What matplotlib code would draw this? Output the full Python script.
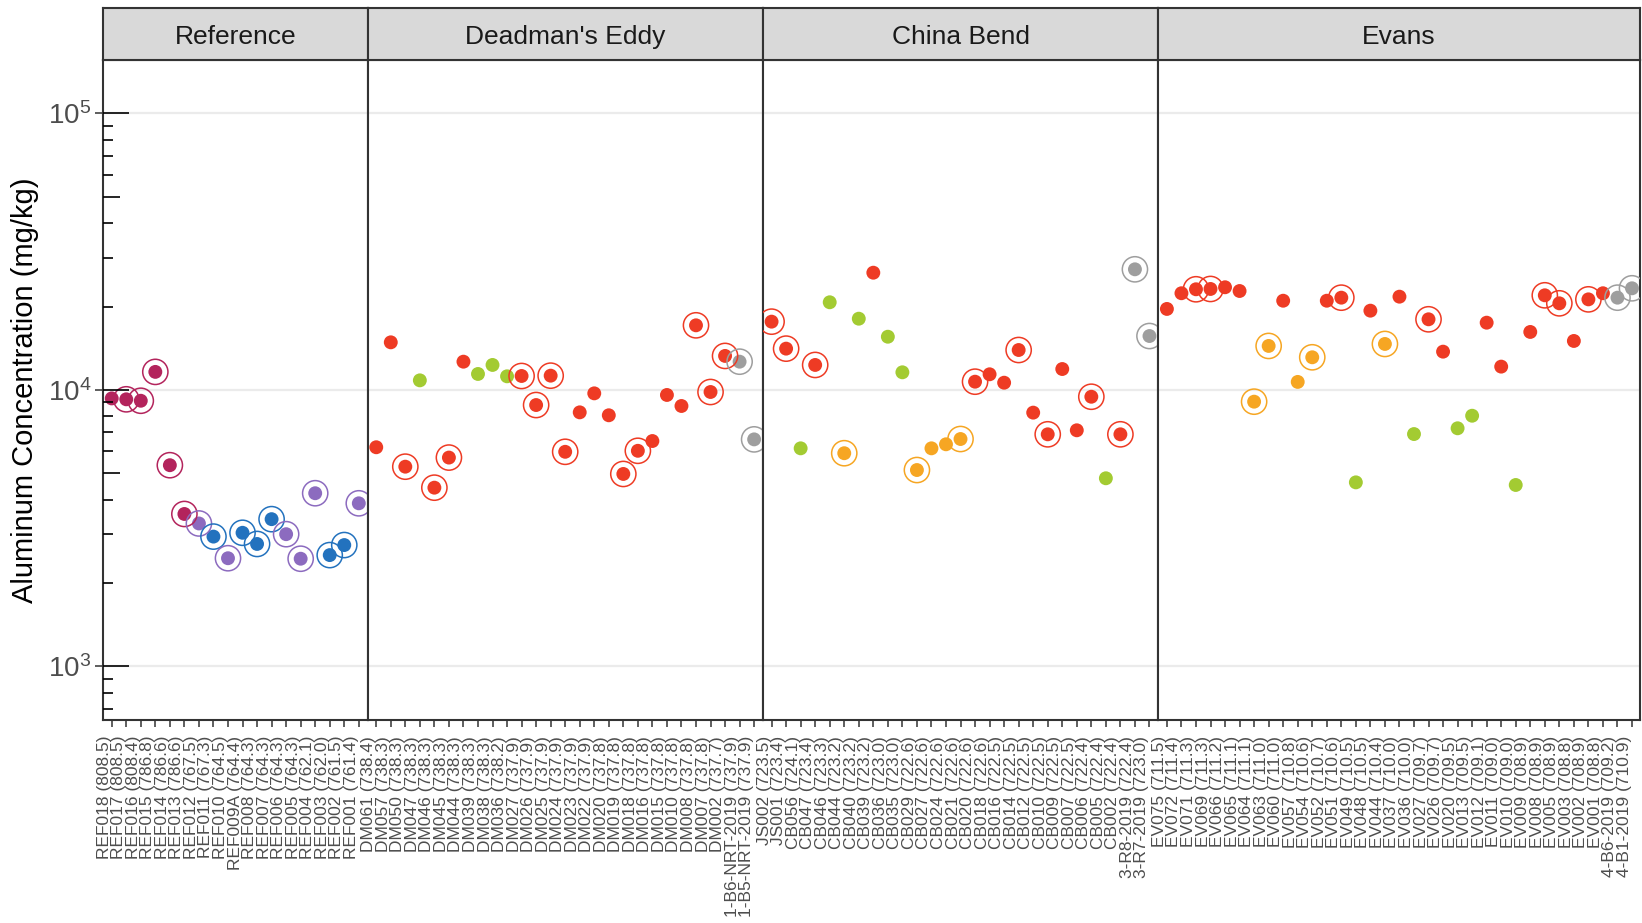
import matplotlib
matplotlib.use("Agg")
import matplotlib.pyplot as plt
import matplotlib.transforms as mtransforms
from matplotlib.ticker import FixedLocator, LogFormatterSciNotation, NullLocator

plt.rcParams['font.family'] = ['Liberation Sans', 'DejaVu Sans']

# ---------------- data ----------------
ref_labels = ["REF018 (808.5)", "REF017 (808.5)", "REF016 (808.4)", "REF015 (786.8)",
              "REF014 (786.6)", "REF013 (786.6)", "REF012 (767.5)", "REF011 (767.3)",
              "REF010 (764.5)", "REF009A (764.4)", "REF008 (764.3)", "REF007 (764.3)",
              "REF006 (764.3)", "REF005 (764.3)", "REF004 (762.1)", "REF003 (762.0)",
              "REF002 (761.5)", "REF001 (761.4)"]
ref_values = [9300, 9230, 9120, 11600, 5330, 3550, 3280, 2940, 2455, 3035, 2765, 3400,
              3000, 2445, 4220, 2520, 2740, 3880]
ref_class = ["M", "M", "M", "M", "M", "M", "P", "B", "P", "B", "B", "B", "P", "P", "P",
             "B", "B", "P"]
ref_ring = [0, 1, 1, 1, 1, 1, 1, 1, 1, 1, 1, 1, 1, 1, 1, 1, 1, 1]

dm_labels = ["DM061 (738.4)", "DM057 (738.3)", "DM050 (738.3)", "DM047 (738.3)",
             "DM046 (738.3)", "DM045 (738.3)", "DM044 (738.3)", "DM039 (738.3)",
             "DM038 (738.3)", "DM036 (738.2)", "DM027 (737.9)", "DM026 (737.9)",
             "DM025 (737.9)", "DM024 (737.9)", "DM023 (737.9)", "DM022 (737.9)",
             "DM020 (737.8)", "DM019 (737.8)", "DM018 (737.8)", "DM016 (737.8)",
             "DM015 (737.8)", "DM010 (737.8)", "DM008 (737.8)", "DM007 (737.8)",
             "DM002 (737.7)", "1-B6-NRT-2019 (737.9)", "1-B5-NRT-2019 (737.9)"]
dm_values = [6190, 14840, 5265, 10810, 4420, 5680, 12630, 11400, 12290, 11180, 11210,
             8800, 11240, 5960, 8280, 9700, 8080, 4955, 6010, 6520, 9570, 8730, 17100,
             9810, 13250, 12630, 6610]
dm_class = ["R", "R", "R", "G", "R", "R", "R", "G", "G", "G", "R", "R", "R", "R", "R",
            "R", "R", "R", "R", "R", "R", "R", "R", "R", "R", "X", "X"]
dm_ring = [0, 0, 1, 0, 1, 1, 0, 0, 0, 0, 1, 1, 1, 1, 0, 0, 0, 1, 1, 0, 0, 0, 1, 1, 1, 1, 1]

cb_labels = ["JS002 (723.5)", "JS001 (723.4)", "CB056 (724.1)", "CB047 (723.4)",
             "CB046 (723.3)", "CB044 (723.2)", "CB040 (723.2)", "CB039 (723.2)",
             "CB036 (723.0)", "CB035 (723.0)", "CB029 (722.6)", "CB027 (722.6)",
             "CB024 (722.6)", "CB021 (722.6)", "CB020 (722.6)", "CB018 (722.6)",
             "CB016 (722.5)", "CB014 (722.5)", "CB012 (722.5)", "CB010 (722.5)",
             "CB009 (722.5)", "CB007 (722.5)", "CB006 (722.4)", "CB005 (722.4)",
             "CB002 (722.4)", "3-R8-2019 (722.4)", "3-R7-2019 (723.0)"]
cb_values = [17630, 14080, 6135, 12290, 20720, 5890, 18070, 26510, 15550, 11560, 5120,
             6135, 6345, 6630, 10690, 11370, 10600, 13920, 8260, 6895, 11880, 7130, 9430,
             4780, 6895, 27270, 15640]
cb_class = ["R", "R", "G", "R", "G", "O", "G", "R", "G", "G", "O", "O", "O", "O", "R",
            "R", "R", "R", "R", "R", "R", "R", "R", "G", "R", "X", "X"]
cb_ring = [1, 1, 0, 1, 0, 1, 0, 0, 0, 0, 1, 0, 0, 1, 1, 0, 0, 1, 0, 1, 0, 0, 1, 0, 1, 1, 1]

ev_labels = ["EV075 (711.5)", "EV072 (711.4)", "EV071 (711.3)", "EV069 (711.3)",
             "EV066 (711.2)", "EV065 (711.1)", "EV064 (711.1)", "EV063 (711.0)",
             "EV060 (711.0)", "EV057 (710.8)", "EV054 (710.6)", "EV052 (710.7)",
             "EV051 (710.6)", "EV049 (710.5)", "EV048 (710.5)", "EV044 (710.4)",
             "EV037 (710.0)", "EV036 (710.0)", "EV027 (709.7)", "EV026 (709.7)",
             "EV020 (709.5)", "EV013 (709.5)", "EV012 (709.1)", "EV011 (709.0)",
             "EV010 (709.0)", "EV009 (708.9)", "EV008 (708.9)", "EV005 (708.9)",
             "EV003 (708.8)", "EV002 (708.9)", "EV001 (708.8)", "4-B6-2019 (709.2)",
             "4-B1-2019 (710.9)"]
ev_values = [19600, 22340, 23090, 23150, 23480, 22760, 9050, 14400, 20990, 10670, 13100,
             20990, 21530, 4620, 19320, 14640, 21710, 6910, 17980, 13730, 7250, 8050,
             17480, 12120, 4520, 16180, 21960, 20540, 15010, 21230, 22340, 21530, 23280]
ev_class = ["R", "R", "R", "R", "R", "R", "O", "O", "R", "O", "O", "R", "R", "G", "R",
            "O", "R", "G", "R", "R", "G", "G", "R", "R", "G", "R", "R", "R", "R", "R",
            "R", "X", "X"]
ev_ring = [0, 0, 1, 1, 0, 0, 1, 1, 0, 0, 1, 0, 1, 0, 0, 1, 0, 0, 1, 0, 0, 0, 0, 0, 0, 0,
           1, 1, 0, 1, 0, 1, 1]

facet_names = ["Reference", "Deadman's Eddy", "China Bend", "Evans"]

class_colors = {"M": "#B3245C", "P": "#8C6BBF", "B": "#2372BE",
                "R": "#EE3B24", "G": "#A3CB32", "O": "#F6A623", "X": "#9E9E9E"}

facets = [
    (facet_names[0], ref_labels, ref_values, ref_class, ref_ring),
    (facet_names[1], dm_labels, dm_values, dm_class, dm_ring),
    (facet_names[2], cb_labels, cb_values, cb_class, cb_ring),
    (facet_names[3], ev_labels, ev_values, ev_class, ev_ring),
]

# ---------------- layout ----------------
W, H = 1642, 923
fig = plt.figure(figsize=(W / 100, H / 100), dpi=100)

left_px, right_px = 103, 1640
top_px, bottom_px = 59.5, 720
strip_top_px = 7.5
ylim = (10 ** 2.8046, 10 ** 5.195)
frame_col = "#333333"
text_grey = "#4D4D4D"

# horizontal extent (in category units) of each panel; the last one is cut close
xranges = []
for i, (_, labels, *_rest) in enumerate(facets):
    n = len(labels)
    hi = n - 0.4 if i < len(facets) - 1 else n - 0.45
    xranges.append((-0.6, hi))
total_units = sum(hi - lo for lo, hi in xranges)
unit_px = (right_px - left_px) / total_units

x0 = left_px
axes = []
for i, (name, labels, values, cls, ring) in enumerate(facets):
    lo, hi = xranges[i]
    wpx = (hi - lo) * unit_px
    ax = fig.add_axes([x0 / W, 1 - bottom_px / H, wpx / W, (bottom_px - top_px) / H])
    ax.set_yscale("log")
    ax.set_ylim(*ylim)
    ax.set_xlim(lo, hi)
    ax.grid(False)
    ax.yaxis.set_major_locator(FixedLocator([1e3, 1e4, 1e5]))
    ax.yaxis.set_minor_locator(NullLocator())
    for yv in [1e3, 1e4, 1e5]:
        ax.axhline(yv, color="#EBEBEB", lw=1.6, zorder=0)

    xs = list(range(len(labels)))
    cols = [class_colors[c] for c in cls]
    ax.scatter(xs, values, s=100, c=cols, edgecolors="none", zorder=3)
    rx = [x for x, r in zip(xs, ring) if r]
    ry = [v for v, r in zip(values, ring) if r]
    rc = [c for c, r in zip(cols, ring) if r]
    ax.scatter(rx, ry, s=330, facecolors="none", edgecolors=rc, linewidths=1.1, zorder=3)

    ax.set_xticks(xs)
    ax.set_xticklabels(labels, rotation=90, ha="right", va="top",
                       fontsize=12.5, color=text_grey)
    ax.tick_params(axis="x", length=5, width=1.1, color=frame_col, pad=6.5)

    if i == 0:
        ax.yaxis.set_major_formatter(LogFormatterSciNotation())
        ax.tick_params(axis="y", which="major", length=5.8, width=1.1, color=frame_col,
                       labelsize=20, labelcolor=text_grey, pad=2.5)
        # logarithmic tick marks along the inner left edge
        trans = mtransforms.blended_transform_factory(ax.transAxes, ax.transData)
        for dec in [100, 1000, 10000]:
            for m in range(1, 10):
                v = dec * m
                if v < ylim[0] or v > ylim[1]:
                    continue
                L = 26 if m == 1 else (17 if m == 5 else 10)
                ax.plot([0, L / wpx], [v, v], transform=trans, color="black",
                        lw=1.2, solid_capstyle="butt", clip_on=False, zorder=4)
        ax.plot([0, 26 / wpx], [1e5, 1e5], transform=trans, color="black",
                lw=1.2, solid_capstyle="butt", clip_on=False, zorder=4)
    else:
        ax.tick_params(axis="y", which="both", left=False, labelleft=False)

    for sp in ax.spines.values():
        sp.set_color(frame_col)
        sp.set_linewidth(1.5)

    # facet strip
    sax = fig.add_axes([x0 / W, 1 - top_px / H, wpx / W, (top_px - strip_top_px) / H])
    sax.set_facecolor("#D9D9D9")
    sax.set_xticks([])
    sax.set_yticks([])
    for sp in sax.spines.values():
        sp.set_color(frame_col)
        sp.set_linewidth(1.5)
    sax.text(0.5, 0.44, name, ha="center", va="center", fontsize=19, color="#1A1A1A",
             transform=sax.transAxes)

    axes.append(ax)
    x0 += wpx

fig.text(25 / W, 1 - 390 / H, "Aluminum Concentration (mg/kg)", rotation=90,
         ha="center", va="center", fontsize=21, color="black")

fig.savefig("out.png", dpi=100)
